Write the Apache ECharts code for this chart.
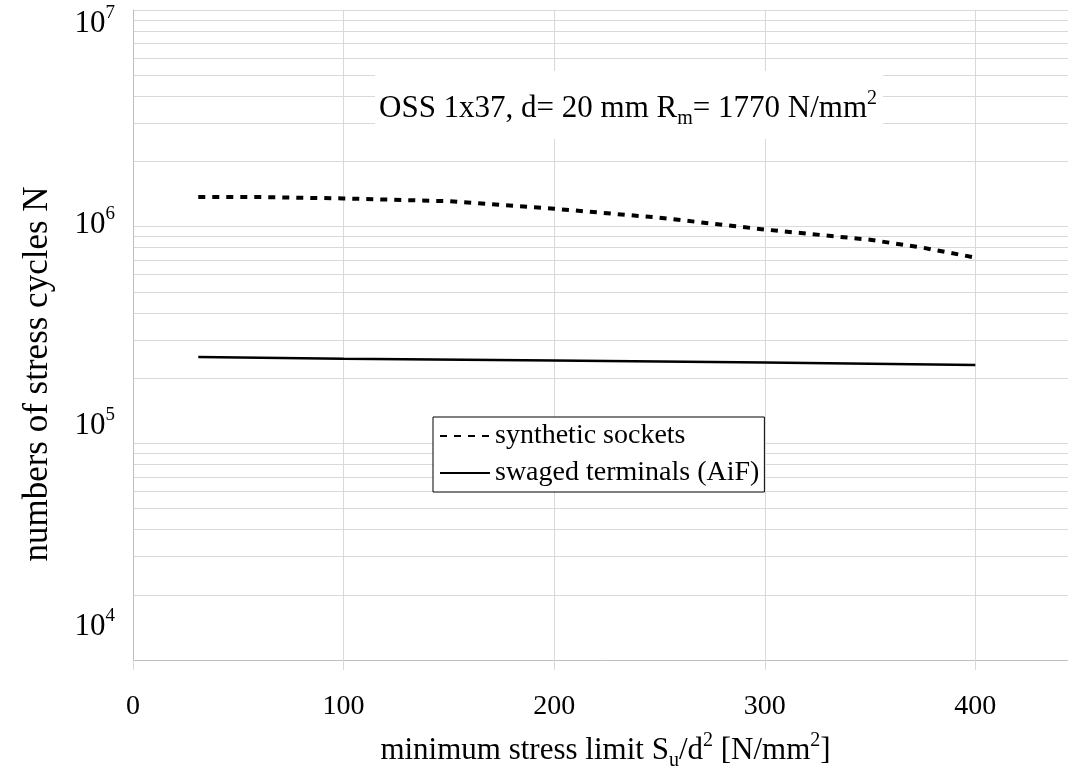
<!DOCTYPE html>
<html>
<head>
<meta charset="utf-8">
<script src="https://cdn.jsdelivr.net/npm/echarts@6/dist/echarts.min.js"></script>
<style>
  html, body { margin: 0; padding: 0; background: #fff; }
  #main { width: 1068px; height: 767px; }
</style>
</head>
<body>
<div id="main"></div>
<script>
// synthetic sockets
const socketStress = [31, 60, 100, 150, 200, 250, 300, 350, 375, 400]
const socketCycles = [1.37e6, 1.37e6, 1.35e6, 1.31e6, 1.21e6, 1.10e6, 0.97e6, 0.87e6, 0.80e6, 0.72e6]
// swaged terminals (AiF)
const swagedStress = [31, 100, 200, 300, 400]
const swagedCycles = [2.50e5, 2.46e5, 2.41e5, 2.36e5, 2.30e5]
// y labels 10^n
const yExponents = [4, 5, 6, 7]

const font = 'Liberation Serif'
const grey = '#d9d9d9'

const toPairs = (xs, ys) => xs.map((x, i) => [x, ys[i]])

// sub / superscript styles for rich text
const subSup = (size, shift) => ({
  sub: { fontFamily: font, fontSize: size, lineHeight: size, padding: [shift, 0, 0, 0], color: '#000' },
  sup: { fontFamily: font, fontSize: size, lineHeight: size, padding: [0, 0, shift, 0], color: '#000' },
})

let option = {
  animation: false,
  textStyle: { fontFamily: font, color: '#000' },
  title: {
    text: 'OSS 1x37, d= 20 mm R{sub|m}= 1770 N/mm{sup|2}',
    left: 375,
    top: 74,
    padding: [18, 6, 10, 4],
    backgroundColor: '#fff',
    textStyle: {
      fontFamily: font,
      fontWeight: 'normal',
      fontSize: 31,
      lineHeight: 34,
      color: '#000',
      rich: subSup(20, 20),
    },
  },
  legend: {
    left: 433,
    top: 417,
    orient: 'vertical',
    padding: [5, 5, 5, 6],
    itemWidth: 50,
    itemHeight: 14,
    itemGap: 9,
    borderColor: '#000',
    borderWidth: 1,
    borderRadius: 0,
    backgroundColor: '#fff',
    itemStyle: { opacity: 0 },
    textStyle: { fontFamily: font, fontSize: 28, color: '#000' },
    data: ['synthetic sockets', 'swaged terminals (AiF)'],
  },
  grid: { left: 133, right: 0, top: 10, bottom: 107, outerBoundsMode: 'none' },
  xAxis: {
    type: 'value',
    min: 0,
    max: 444,
    interval: 100,
    name: 'minimum stress limit S{sub|u}/d{sup|2} [N/mm{sup|2}]',
    nameLocation: 'middle',
    nameGap: 74,
    nameTextStyle: {
      fontFamily: font,
      fontSize: 31,
      lineHeight: 34,
      color: '#000',
      padding: [0, 0, 0, 10],
      rich: subSup(20, 20),
    },
    axisLine: { show: true, lineStyle: { color: '#bfbfbf' } },
    axisTick: { show: true, length: 10, lineStyle: { color: grey } },
    axisLabel: { fontFamily: font, fontSize: 28, color: '#000', margin: 33, showMaxLabel: false },
    splitLine: { show: true, lineStyle: { color: grey } },
  },
  yAxis: [
    {
      type: 'log',
      logBase: 10,
      min: 1e4,
      max: 1e7,
      name: 'numbers of stress cycles N',
      nameLocation: 'middle',
      nameGap: 78,
      nameTextStyle: { fontFamily: font, fontSize: 35, color: '#000', padding: [0, 78, 0, 0] },
      axisLine: { show: true, lineStyle: { color: '#bfbfbf' } },
      axisTick: { show: false },
      axisLabel: { show: false },
      splitLine: { show: true, lineStyle: { color: grey } },
      minorTick: { show: false, splitNumber: 9 },
      minorSplitLine: { show: true, lineStyle: { color: grey } },
    },
    {
      // the 10^n labels sit a little off the decade lines in the original, so they get their own axis
      type: 'value',
      position: 'left',
      min: 3.836,
      max: 7.07,
      axisLine: { show: false },
      axisTick: { show: false },
      splitLine: { show: false },
      axisLabel: {
        margin: 18,
        formatter: (v) => (yExponents.includes(v) ? `{b|10}{s|${v}}` : ''),
        rich: {
          b: { fontFamily: font, fontSize: 31, lineHeight: 32, color: '#000' },
          s: { fontFamily: font, fontSize: 19, lineHeight: 19, padding: [0, 0, 22, 0], color: '#000' },
        },
      },
    },
  ],
  series: [
    {
      name: 'synthetic sockets',
      type: 'line',
      yAxisIndex: 0,
      symbol: 'none',
      lineStyle: { color: '#000', width: 4, type: [7, 7] },
      itemStyle: { color: '#000' },
      data: toPairs(socketStress, socketCycles),
    },
    {
      name: 'swaged terminals (AiF)',
      type: 'line',
      yAxisIndex: 0,
      symbol: 'none',
      lineStyle: { color: '#000', width: 2.5 },
      itemStyle: { color: '#000' },
      data: toPairs(swagedStress, swagedCycles),
    },
  ],
}

let myChart = echarts.init(document.getElementById('main'))
myChart.setOption(option)
</script>
</body>
</html>
